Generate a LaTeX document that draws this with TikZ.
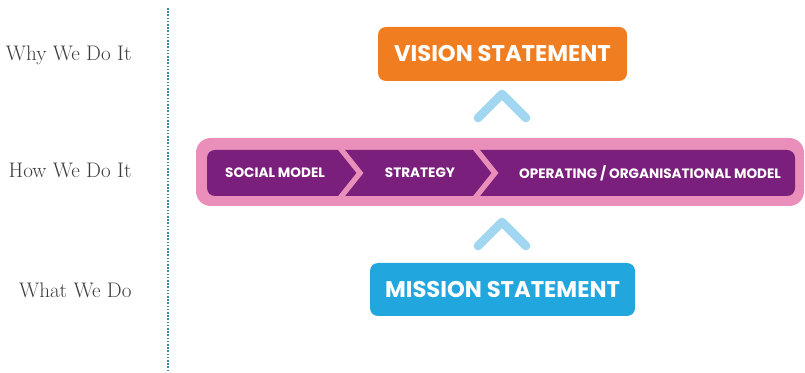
\documentclass[tikz,border=0pt]{standalone}
\usepackage{fontspec}
\newfontfamily\boxfont{Poppins}
\definecolor{visionorange}{RGB}{240,126,32}
\definecolor{missionblue}{RGB}{34,166,222}
\definecolor{chevblue}{RGB}{160,214,240}
\definecolor{bandpink}{RGB}{234,142,186}
\definecolor{bandpurple}{RGB}{122,32,124}
\definecolor{guideteal}{RGB}{58,140,160}
\definecolor{labelgrey}{RGB}{60,60,60}
\tikzset{every picture/.style={line width=0.75pt}}
\tikzset{
  statebox/.style={rounded corners=6pt, inner sep=0pt, text=white, font=\boxfont\bfseries\fontsize{17}{20}\selectfont},
  bandtext/.style={inner sep=0.75pt, text=white, font=\boxfont\bfseries\fontsize{10.2}{12}\selectfont},
  sidelabel/.style={anchor=east, inner sep=0.75pt, text=labelgrey, font=\fontsize{15.8}{19}\selectfont},
  upchev/.style={draw=chevblue, line width=6.5pt, line cap=round, line join=round},
  bandchev/.style={draw=bandpink, line width=4pt}
}

\begin{document}
\begin{tikzpicture}[x=0.75pt,y=0.75pt,yscale=-1,xscale=1]
    \path[use as bounding box] (0,0) rectangle (805,373);

    %Straight Lines [dotted guide]
    \draw [guideteal, line width=1.4pt, dash pattern=on 1.2pt off 1.2pt] (168,8) -- (168,373);

    % Text Node
    \node [sidelabel] (why) at (133,55) {Why We Do It};
    % Text Node
    \node [sidelabel] (how) at (133,170) {How We Do It};
    % Text Node
    \node [sidelabel] (what) at (133,290) {What We Do};

    %Shape: Rounded Rectangle [band]
    \node [fill=bandpink, rounded corners=11pt, minimum width=456pt, minimum height=51pt, inner sep=0pt] (band) at (500,172) {};
    %Shape: Rounded Rectangle [inner band]
    \node [fill=bandpurple, rounded corners=6pt, minimum width=441pt, minimum height=34.5pt, inner sep=0pt] (inner) at (501,173) {};

    %Straight Lines [band chevrons]
    \draw [bandchev] (340,148) -- (360,173) -- (340,198) ;
    \draw [bandchev] (475,148) -- (495,173) -- (475,198) ;

    % Text Node
    \node [bandtext] (social) at (275,173) {SOCIAL MODEL};
    % Text Node
    \node [bandtext] (strategy) at (420,173) {STRATEGY};
    % Text Node
    \node [bandtext] (operating) at (650,173) {OPERATING / ORGANISATIONAL MODEL};

    %Shape: Rounded Rectangle [vision]
    \node [statebox, fill=visionorange, minimum width=186.75pt, minimum height=40.5pt] (vision) at (502.5,54) {VISION STATEMENT};
    %Shape: Rounded Rectangle [mission]
    \node [statebox, fill=missionblue, minimum width=198.75pt, minimum height=39.75pt] (mission) at (502.5,289.5) {MISSION STATEMENT};

    %Straight Lines [up chevrons]
    \draw [upchev] (478,118) -- (502,94) -- (526,118) ;
    \draw [upchev] (478,246) -- (502,222) -- (526,246) ;

\end{tikzpicture}
\end{document}
